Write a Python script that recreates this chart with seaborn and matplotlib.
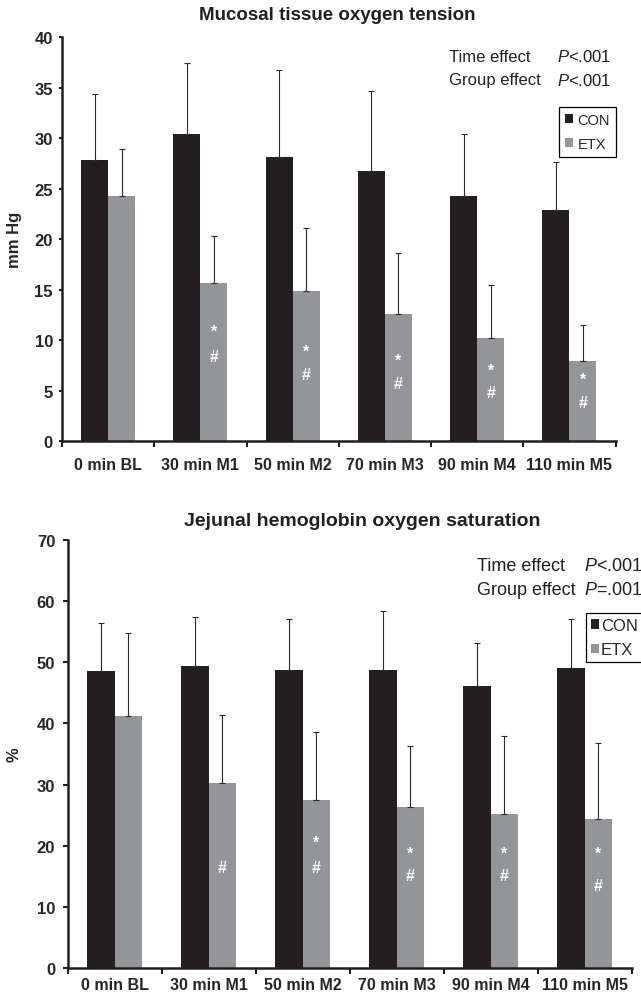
import numpy as np
import pandas as pd
import matplotlib
matplotlib.use('Agg')
import matplotlib.pyplot as plt
import seaborn as sns

# Data (mean and upper SD)
times = ['0 min BL', '30 min M1', '50 min M2', '70 min M3', '90 min M4', '110 min M5']
groups = ['CON', 'ETX']

pto2_con = [27.9, 30.4, 28.1, 26.8, 24.3, 22.9]
pto2_con_sd = [6.5, 7.1, 8.7, 7.9, 6.1, 4.8]
pto2_etx = [24.3, 15.7, 14.9, 12.6, 10.2, 8.0]
pto2_etx_sd = [4.6, 4.6, 6.2, 6.0, 5.3, 3.5]
pto2_star_y = [None, 10.9, 8.9, 8.0, 7.0, 6.1]
pto2_hash_y = [None, 8.4, 6.6, 5.7, 4.8, 3.8]

sat_con = [48.5, 49.4, 48.7, 48.7, 46.1, 49.0]
sat_con_sd = [7.9, 7.9, 8.3, 9.7, 7.1, 8.0]
sat_etx = [41.2, 30.3, 27.5, 26.3, 25.2, 24.4]
sat_etx_sd = [13.5, 11.0, 11.1, 10.0, 12.8, 12.4]
sat_star_y = [None, None, 20.6, 18.8, 18.8, 18.8]
sat_hash_y = [None, 16.5, 16.5, 15.1, 15.1, 13.6]

colors = {'CON': '#231f20', 'ETX': '#939598'}

sns.set_style('ticks')
plt.rcParams['font.family'] = ['Liberation Sans', 'DejaVu Sans']
plt.rcParams['mathtext.fontset'] = 'custom'
plt.rcParams['mathtext.rm'] = 'Liberation Sans'
plt.rcParams['mathtext.it'] = 'Liberation Sans:italic'

W, H = 641, 1004
fig = plt.figure(figsize=(W / 100, H / 100), dpi=100)


def fx(px):
    return px / W


def fy(py):
    return 1 - py / H


def make_df(con, etx):
    return pd.DataFrame({
        'time': times * 2,
        'group': ['CON'] * 6 + ['ETX'] * 6,
        'value': list(con) + list(etx),
    })


def draw_panel(ax, con, con_sd, etx, etx_sd, star_y, hash_y, ymax, ystep,
               ylabel, label_x, xpad, ypad, tlen):
    df = make_df(con, etx)
    sns.barplot(data=df, x='time', y='value', hue='group', order=times,
                hue_order=groups, palette=colors, saturation=1, width=0.585,
                errorbar=None, linewidth=0, ax=ax)
    for cont, sd in zip(ax.containers, [con_sd, etx_sd]):
        xs = [b.get_x() + b.get_width() / 2 for b in cont]
        hs = [b.get_height() for b in cont]
        ax.errorbar(xs, hs, yerr=[np.zeros(len(sd)), sd], fmt='none',
                    ecolor='#2a2a2a', elinewidth=0.8, capsize=2.4,
                    capthick=0.8, zorder=3)
    etx_bars = ax.containers[1]
    for b, sy, hy in zip(etx_bars, star_y, hash_y):
        cx = b.get_x() + b.get_width() / 2
        if sy is not None:
            ax.text(cx, sy, '*', color='white', ha='center', va='center',
                    fontsize=11.5, fontweight='bold')
        if hy is not None:
            ax.text(cx, hy, '#', color='white', ha='center', va='center',
                    fontsize=11.5, fontweight='bold')

    ax.set_xlim(-0.5, 5.5)
    ax.set_ylim(0, ymax)
    ax.set_yticks(np.arange(0, ymax + 1, ystep))
    ax.set_xlabel('')
    ax.set_ylabel(ylabel, fontsize=12, fontweight='bold')
    ax.yaxis.set_label_coords(label_x, 0.5)
    ax.set_xticks(range(6))
    ax.set_xticklabels(times, fontsize=11.5, fontweight='bold')
    ax.set_xticks(np.arange(-0.5, 6, 1), minor=True)
    ax.tick_params(axis='x', which='major', length=0, pad=xpad)
    ax.tick_params(axis='x', which='minor', length=4, width=1.5,
                   direction='out', color='#231f20')
    ax.tick_params(axis='y', length=tlen, width=1.5, pad=ypad,
                   labelsize=12, color='#231f20')
    for lab in ax.get_yticklabels():
        lab.set_fontweight('bold')
    for s in ['left', 'bottom']:
        ax.spines[s].set_linewidth(1.8)
        ax.spines[s].set_color('#231f20')
    sns.despine(ax=ax)


# Top panel: mucosal tissue oxygen tension
ax1 = fig.add_axes([fx(62), fy(442.3), fx(615.6 - 62), (442.3 - 38.3) / H])
draw_panel(ax1, pto2_con, pto2_con_sd, pto2_etx, pto2_etx_sd,
           pto2_star_y, pto2_hash_y, 40, 5, 'mm Hg', -0.072, 11.5, 4, 2.5)
sns.move_legend(ax1, loc='upper right', bbox_to_anchor=(fx(615.7), fy(108)),
                bbox_transform=fig.transFigure, title=None, frameon=True,
                fontsize=10.5, handlelength=0.55, handleheight=0.55,
                handletextpad=0.3, labelspacing=0.7, borderpad=0.4,
                borderaxespad=0, fancybox=False, edgecolor='black',
                framealpha=1)
ax1.get_legend().get_frame().set_linewidth(0.9)

fig.text(fx(337.7), fy(15), 'Mucosal tissue oxygen tension', ha='center',
         va='center', fontsize=13.5, fontweight='bold', color='#231f20')
fig.text(fx(449), fy(57.3), 'Time effect', ha='left', va='center', fontsize=12,
         color='#231f20')
fig.text(fx(556.7), fy(57.3), r'$\mathit{P}$<.001', ha='left', va='center',
         fontsize=12, color='#231f20')
fig.text(fx(449), fy(80.7), 'Group effect', ha='left', va='center', fontsize=12,
         color='#231f20')
fig.text(fx(556.7), fy(80.7), r'$\mathit{P}$<.001', ha='left', va='center',
         fontsize=12, color='#231f20')

# Bottom panel: jejunal hemoglobin oxygen saturation
ax2 = fig.add_axes([fx(67.7), fy(969.3), fx(631.7 - 67.7), (969.3 - 540.7) / H])
draw_panel(ax2, sat_con, sat_con_sd, sat_etx, sat_etx_sd,
           sat_star_y, sat_hash_y, 70, 10, '%', -0.081, 6, 5.5, 3.5)
sns.move_legend(ax2, loc='upper left', bbox_to_anchor=(fx(585.7), fy(614)),
                bbox_transform=fig.transFigure, title=None, frameon=True,
                fontsize=12, handlelength=0.5, handleheight=0.5,
                handletextpad=0.12, labelspacing=0.55, borderpad=0.3,
                borderaxespad=0, fancybox=False, edgecolor='black',
                framealpha=1)
ax2.get_legend().get_frame().set_linewidth(0.9)

fig.text(fx(362), fy(521.7), 'Jejunal hemoglobin oxygen saturation',
         ha='center', va='center', fontsize=14, fontweight='bold',
         color='#231f20')
fig.text(fx(477), fy(566.7), 'Time effect', ha='left', va='center',
         fontsize=13, color='#231f20')
fig.text(fx(584), fy(566.7), r'$\mathit{P}$<.001', ha='left', va='center',
         fontsize=13, color='#231f20')
fig.text(fx(477), fy(590.7), 'Group effect', ha='left', va='center',
         fontsize=13, color='#231f20')
fig.text(fx(584), fy(590.7), r'$\mathit{P}$=.001', ha='left', va='center',
         fontsize=13, color='#231f20')

fig.savefig('out.png', dpi=100)
